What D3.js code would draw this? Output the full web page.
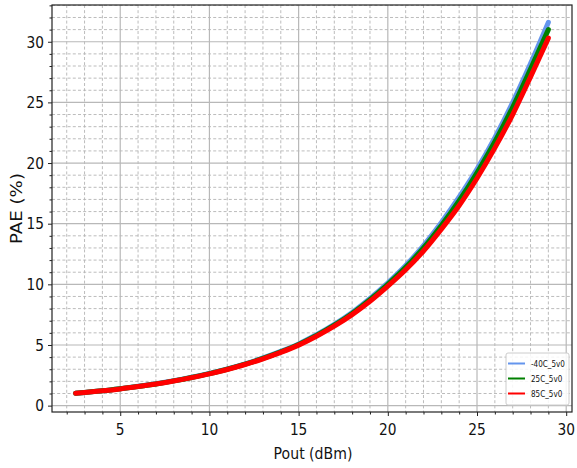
<!DOCTYPE html>
<html><head><meta charset="utf-8">
<script src="https://cdn.jsdelivr.net/npm/d3@7"></script>
<style>html,body{margin:0;padding:0;background:#fff;}svg{display:block;}</style>
</head><body>
<svg id="chart" width="577" height="468"></svg>
<script>
// ---- data ----
const pout = [2.5, 3, 4, 5, 6, 7, 8, 9, 10, 11, 12, 13, 14, 15, 16, 17, 18, 19, 20, 21, 22, 23, 24, 25, 26, 27, 28, 29];
const pae_m40C = [1.03, 1.09, 1.23, 1.40, 1.59, 1.80, 2.05, 2.34, 2.66, 3.03, 3.45, 3.93, 4.47, 5.09, 5.84, 6.70, 7.68, 8.83, 10.12, 11.55, 13.2, 15.1, 17.2, 19.5, 22.1, 25.0, 28.2, 31.6];
const pae_25C  = [1.02, 1.08, 1.22, 1.39, 1.58, 1.79, 2.04, 2.32, 2.64, 3.00, 3.42, 3.89, 4.43, 5.04, 5.78, 6.63, 7.60, 8.73, 10.0, 11.4, 13.0, 14.85, 16.9, 19.2, 21.75, 24.6, 27.75, 31.0];
const pae_85C  = [1.02, 1.08, 1.22, 1.38, 1.57, 1.78, 2.03, 2.31, 2.62, 2.98, 3.39, 3.86, 4.39, 4.99, 5.72, 6.55, 7.50, 8.60, 9.85, 11.2, 12.75, 14.55, 16.5, 18.75, 21.25, 24.0, 27.1, 30.3];
const seriesNames = ["-40C_5v0", "25C_5v0", "85C_5v0"];
const seriesColors = ["#6495ED", "#008000", "#FF0000"];
const xMajorTicks = [5, 10, 15, 20, 25, 30];
const yMajorTicks = [0, 5, 10, 15, 20, 25, 30];
const xLabel = "Pout (dBm)";
const yLabel = "PAE (%)";

// ---- layout ----
const L = 52, R = 572, T = 5, B = 412;
const svg = d3.select("#chart");
const x = d3.scaleLinear().domain([1.175, 30.325]).range([L, R]);
const y = d3.scaleLinear().domain([-0.525, 33.03]).range([B, T]);

const xMinor = d3.range(2, 31, 1).filter(v => v % 5 !== 0);
const yMinor = d3.range(0, 34, 1).filter(v => v % 5 !== 0);

// minor grid (dashed)
const g = svg.append("g");
g.selectAll(".vxm").data(xMinor).enter().append("line")
  .attr("x1", d => x(d)).attr("x2", d => x(d)).attr("y1", T).attr("y2", B)
  .attr("stroke", "#b4b4b4").attr("stroke-width", 0.9).attr("stroke-dasharray", "3,2.2");
g.selectAll(".hym").data(yMinor).enter().append("line")
  .attr("y1", d => y(d)).attr("y2", d => y(d)).attr("x1", L).attr("x2", R)
  .attr("stroke", "#b4b4b4").attr("stroke-width", 0.9).attr("stroke-dasharray", "3,2.2");
// major grid (solid)
g.selectAll(".vx").data(xMajorTicks).enter().append("line")
  .attr("x1", d => x(d)).attr("x2", d => x(d)).attr("y1", T).attr("y2", B)
  .attr("stroke", "#b8b8b8").attr("stroke-width", 1.2);
g.selectAll(".hy").data(yMajorTicks).enter().append("line")
  .attr("y1", d => y(d)).attr("y2", d => y(d)).attr("x1", L).attr("x2", R)
  .attr("stroke", "#b8b8b8").attr("stroke-width", 1.2);

// curves
const allSeries = [pae_m40C, pae_25C, pae_85C];
const line = d3.line().x((d, i) => x(pout[i])).y(d => y(d)).curve(d3.curveMonotoneX);
allSeries.forEach((s, k) => {
  svg.append("path").datum(s).attr("d", line)
    .attr("fill", "none").attr("stroke", seriesColors[k])
    .attr("stroke-width", 5).attr("stroke-linecap", "round").attr("stroke-linejoin", "round");
});

// axes (ticks)
const xAxis = d3.axisBottom(x).tickValues(xMajorTicks).tickSize(4).tickFormat("");
const xAxisMinor = d3.axisBottom(x).tickValues(xMinor).tickSize(2.5).tickFormat("");
const yAxis = d3.axisLeft(y).tickValues(yMajorTicks).tickSize(4).tickFormat("");
const yAxisMinor = d3.axisLeft(y).tickValues(yMinor).tickSize(2.5).tickFormat("");
[svg.append("g").attr("transform", `translate(0,${B})`).call(xAxis),
 svg.append("g").attr("transform", `translate(0,${B})`).call(xAxisMinor),
 svg.append("g").attr("transform", `translate(${L},0)`).call(yAxis),
 svg.append("g").attr("transform", `translate(${L},0)`).call(yAxisMinor)].forEach(a => {
  a.select(".domain").remove();
  a.selectAll(".tick line").attr("stroke", "#222").attr("stroke-width", 1);
});

// frame
svg.append("rect").attr("x", L).attr("y", T).attr("width", R - L).attr("height", B - T)
  .attr("fill", "none").attr("stroke", "#222").attr("stroke-width", 1.2);

const FONT = "DejaVu Sans, sans-serif";
// tick labels
svg.selectAll(".xtl").data(xMajorTicks).enter().append("text")
  .attr("transform", d => `translate(${x(d)},435) scale(0.86,1)`)
  .attr("text-anchor", "middle").attr("font-family", FONT).attr("font-size", 16).attr("fill", "#111")
  .text(d => d);
svg.selectAll(".ytl").data(yMajorTicks).enter().append("text")
  .attr("transform", d => `translate(44,${y(d) + 5.8}) scale(0.86,1)`)
  .attr("text-anchor", "end").attr("font-family", FONT).attr("font-size", 16).attr("fill", "#111")
  .text(d => d);

// axis labels
svg.append("text").attr("transform", `translate(${(L + R) / 2 + 1},458.5) scale(0.88,1)`)
  .attr("text-anchor", "middle").attr("font-family", FONT).attr("font-size", 16).attr("fill", "#111")
  .text(xLabel);
svg.append("text").attr("transform", `translate(22,208.5) rotate(-90) scale(1.04,0.86)`)
  .attr("text-anchor", "middle").attr("font-family", FONT).attr("font-size", 17.5).attr("fill", "#111")
  .text(yLabel);

// legend
const lg = svg.append("g");
lg.append("rect").attr("x", 506).attr("y", 353).attr("width", 63).attr("height", 52)
  .attr("rx", 2).attr("fill", "#fff").attr("fill-opacity", 0.85)
  .attr("stroke", "#cccccc").attr("stroke-width", 1);
seriesNames.forEach((n, k) => {
  const yy = 363.5 + k * 15;
  lg.append("line").attr("x1", 508).attr("x2", 525).attr("y1", yy).attr("y2", yy)
    .attr("stroke", seriesColors[k]).attr("stroke-width", 2);
  lg.append("text").attr("transform", `translate(531,${yy + 3.4}) scale(0.76,1)`)
    .attr("font-family", FONT).attr("font-size", 9.5).attr("fill", "#111").text(n);
});
</script>
</body></html>
